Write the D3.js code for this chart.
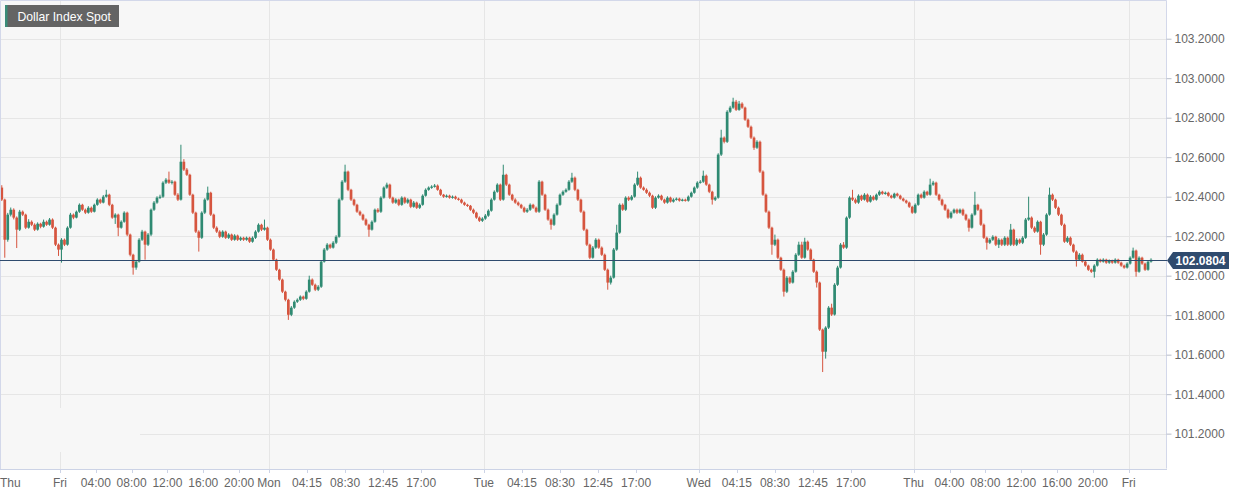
<!DOCTYPE html>
<html>
<head>
<meta charset="utf-8">
<script src="https://cdnjs.cloudflare.com/ajax/libs/d3/7.8.5/d3.min.js"></script>
<style>
html,body{margin:0;padding:0;background:#fff;}
svg{display:block;font-family:"Liberation Sans",Arial,Helvetica,sans-serif;}
</style>
</head>
<body>
<svg id="chart" width="1244" height="495"></svg>
<script>
// ---------------- DATA (20-minute candles, open = previous close) ----------------
const title = "Dollar Index Spot";
const open0 = 102.446;
const close = [
102.385,102.182,102.309,102.334,102.294,102.233,102.324,102.309,102.243,102.273,
102.258,102.233,102.263,102.248,102.273,102.258,102.284,102.243,102.157,102.132,
102.182,102.157,102.243,102.309,102.294,102.324,102.359,102.334,102.319,102.344,
102.324,102.359,102.385,102.370,102.400,102.410,102.359,102.294,102.309,102.243,
102.273,102.319,102.208,102.106,102.041,102.071,102.182,102.223,102.157,102.208,
102.334,102.370,102.395,102.400,102.471,102.486,102.471,102.476,102.410,102.385,
102.577,102.537,102.511,102.410,102.319,102.223,102.192,102.319,102.385,102.420,
102.309,102.243,102.223,102.197,102.223,102.192,102.208,102.182,102.203,102.182,
102.192,102.182,102.192,102.172,102.192,102.223,102.258,102.233,102.243,102.182,
102.132,102.081,102.030,101.980,101.919,101.878,101.802,101.838,101.868,101.878,
101.894,101.883,101.919,101.980,101.954,101.929,101.944,102.071,102.132,102.157,
102.142,102.167,102.197,102.385,102.476,102.527,102.435,102.385,102.359,102.324,
102.309,102.284,102.258,102.233,102.273,102.334,102.324,102.395,102.446,102.461,
102.395,102.370,102.385,102.359,102.395,102.370,102.385,102.349,102.370,102.344,
102.359,102.405,102.435,102.446,102.451,102.456,102.435,102.410,102.400,102.405,
102.395,102.400,102.390,102.385,102.370,102.359,102.354,102.334,102.319,102.294,
102.278,102.289,102.304,102.329,102.385,102.425,102.461,102.385,102.511,102.461,
102.410,102.385,102.370,102.359,102.344,102.324,102.334,102.359,102.344,102.324,
102.476,102.410,102.334,102.284,102.258,102.309,102.359,102.410,102.425,102.435,
102.476,102.496,102.435,102.385,102.324,102.233,102.157,102.091,102.142,102.182,
102.142,102.106,102.030,101.965,101.990,102.132,102.218,102.359,102.334,102.395,
102.385,102.400,102.461,102.496,102.446,102.435,102.420,102.405,102.344,102.395,
102.405,102.385,102.370,102.395,102.375,102.385,102.390,102.380,102.385,102.380,
102.400,102.420,102.446,102.471,102.476,102.506,102.461,102.425,102.385,102.395,
102.613,102.699,102.678,102.830,102.851,102.881,102.840,102.871,102.851,102.790,
102.754,102.699,102.648,102.678,102.527,102.410,102.324,102.243,102.157,102.182,
102.091,102.030,101.919,101.990,101.965,102.020,102.106,102.157,102.091,102.172,
102.132,102.081,102.020,101.965,101.727,101.615,101.737,101.838,101.803,101.954,
102.041,102.157,102.142,102.294,102.395,102.385,102.370,102.405,102.385,102.410,
102.375,102.400,102.385,102.410,102.425,102.415,102.420,102.405,102.395,102.415,
102.405,102.390,102.380,102.370,102.349,102.319,102.359,102.410,102.395,102.425,
102.410,102.461,102.471,102.410,102.385,102.359,102.334,102.294,102.319,102.334,
102.319,102.334,102.309,102.284,102.243,102.309,102.359,102.334,102.258,102.192,
102.167,102.182,102.197,102.157,102.182,102.157,102.192,102.157,102.233,102.157,
102.182,102.167,102.192,102.284,102.294,102.243,102.223,102.273,102.157,102.208,
102.309,102.410,102.385,102.344,102.309,102.258,102.172,102.192,102.157,102.122,
102.081,102.106,102.071,102.051,102.030,102.020,102.051,102.081,102.071,102.081,
102.066,102.076,102.066,102.081,102.066,102.051,102.041,102.061,102.091,102.127,
102.020,102.091,102.061,102.030,102.071,102.0804
];
const high = [
102.458,102.390,102.318,102.345,102.341,102.300,102.333,102.330,102.314,102.286,
102.280,102.265,102.270,102.268,102.284,102.279,102.292,102.290,102.248,102.163,
102.190,102.188,102.250,102.318,102.315,102.330,102.366,102.364,102.340,102.352,
102.350,102.365,102.392,102.390,102.408,102.435,102.415,102.364,102.316,102.314,
102.280,102.326,102.324,102.213,102.111,102.080,102.190,102.232,102.228,102.216,
102.340,102.378,102.402,102.410,102.478,102.494,102.527,102.484,102.481,102.418,
102.663,102.590,102.545,102.516,102.415,102.324,102.230,102.326,102.392,102.451,
102.425,102.314,102.250,102.230,102.230,102.228,102.215,102.213,102.210,102.208,
102.198,102.197,102.198,102.197,102.199,102.230,102.265,102.263,102.284,102.248,
102.188,102.137,102.086,102.035,101.985,101.924,101.883,101.846,101.875,101.885,
101.900,101.899,101.926,102.000,101.986,101.960,101.952,102.078,102.140,102.165,
102.162,102.175,102.205,102.392,102.484,102.562,102.532,102.440,102.390,102.364,
102.330,102.314,102.290,102.263,102.280,102.340,102.342,102.402,102.452,102.471,
102.466,102.400,102.392,102.390,102.402,102.400,102.392,102.390,102.378,102.375,
102.366,102.412,102.442,102.452,102.458,102.464,102.462,102.440,102.414,102.411,
102.410,102.406,102.405,102.395,102.390,102.375,102.364,102.358,102.340,102.324,
102.300,102.296,102.312,102.336,102.392,102.432,102.468,102.466,102.562,102.516,
102.466,102.415,102.392,102.376,102.364,102.350,102.342,102.366,102.364,102.350,
102.484,102.481,102.415,102.340,102.290,102.316,102.366,102.416,102.432,102.442,
102.484,102.521,102.502,102.440,102.390,102.330,102.238,102.162,102.150,102.190,
102.188,102.148,102.112,102.036,102.000,102.140,102.258,102.366,102.366,102.402,
102.402,102.408,102.468,102.527,102.502,102.452,102.442,102.426,102.410,102.402,
102.412,102.410,102.390,102.402,102.400,102.392,102.396,102.395,102.390,102.390,
102.406,102.426,102.452,102.478,102.484,102.532,102.512,102.466,102.430,102.402,
102.620,102.739,102.705,102.838,102.860,102.901,102.890,102.885,102.878,102.856,
102.796,102.760,102.705,102.686,102.684,102.533,102.416,102.330,102.248,102.208,
102.188,102.096,102.036,101.998,101.996,102.028,102.114,102.172,102.172,102.192,
102.178,102.138,102.086,102.026,101.970,101.732,101.744,101.846,101.858,101.962,
102.050,102.165,102.170,102.300,102.402,102.435,102.392,102.412,102.410,102.418,
102.416,102.408,102.406,102.416,102.432,102.430,102.426,102.425,102.410,102.420,
102.420,102.410,102.395,102.385,102.375,102.354,102.366,102.416,102.416,102.432,
102.430,102.491,102.480,102.476,102.415,102.390,102.364,102.340,102.326,102.340,
102.340,102.340,102.340,102.314,102.290,102.316,102.425,102.364,102.340,102.264,
102.198,102.190,102.205,102.202,102.190,102.188,102.200,102.198,102.262,102.238,
102.190,102.188,102.200,102.292,102.400,102.300,102.250,102.280,102.278,102.216,
102.316,102.446,102.416,102.390,102.350,102.314,102.264,102.200,102.198,102.162,
102.128,102.114,102.112,102.076,102.056,102.036,102.058,102.088,102.086,102.088,
102.086,102.082,102.081,102.088,102.086,102.071,102.056,102.068,102.098,102.142,
102.132,102.098,102.096,102.066,102.078,102.088
];
const low = [
102.378,102.091,102.172,102.300,102.285,102.140,102.226,102.302,102.236,102.238,
102.251,102.226,102.228,102.240,102.243,102.252,102.253,102.236,102.150,102.100,
102.066,102.150,102.152,102.238,102.286,102.290,102.318,102.328,102.312,102.314,
102.318,102.320,102.354,102.364,102.366,102.395,102.352,102.288,102.262,102.200,
102.238,102.268,102.200,102.098,102.005,102.030,102.066,102.176,102.081,102.150,
102.200,102.328,102.364,102.388,102.394,102.464,102.465,102.462,102.404,102.378,
102.380,102.530,102.505,102.404,102.312,102.216,102.122,102.186,102.312,102.380,
102.302,102.236,102.216,102.190,102.192,102.186,102.186,102.176,102.177,102.176,
102.176,102.176,102.177,102.166,102.167,102.186,102.218,102.226,102.228,102.176,
102.126,102.075,102.024,101.974,101.912,101.870,101.776,101.795,101.832,101.862,
101.872,101.876,101.878,101.914,101.948,101.922,101.922,101.938,102.066,102.126,
102.136,102.137,102.160,102.192,102.380,102.470,102.428,102.378,102.352,102.318,
102.302,102.278,102.252,102.197,102.228,102.268,102.318,102.318,102.390,102.440,
102.388,102.364,102.364,102.352,102.354,102.364,102.364,102.342,102.344,102.338,
102.338,102.354,102.400,102.430,102.440,102.446,102.430,102.404,102.394,102.395,
102.390,102.390,102.385,102.380,102.365,102.354,102.348,102.328,102.312,102.288,
102.272,102.272,102.283,102.298,102.324,102.380,102.420,102.378,102.380,102.454,
102.404,102.378,102.364,102.352,102.338,102.318,102.318,102.328,102.338,102.318,
102.318,102.404,102.328,102.278,102.233,102.252,102.304,102.354,102.404,102.420,
102.430,102.470,102.428,102.378,102.318,102.226,102.150,102.084,102.086,102.136,
102.136,102.100,102.024,101.929,101.955,101.985,102.126,102.212,102.328,102.328,
102.378,102.380,102.395,102.455,102.440,102.430,102.414,102.398,102.338,102.338,
102.390,102.380,102.364,102.365,102.370,102.370,102.380,102.375,102.376,102.375,
102.375,102.395,102.415,102.440,102.466,102.470,102.455,102.418,102.360,102.378,
102.390,102.606,102.670,102.672,102.824,102.845,102.834,102.835,102.845,102.784,
102.748,102.692,102.637,102.642,102.520,102.404,102.318,102.236,102.106,102.150,
102.084,102.024,101.894,101.912,101.958,101.960,102.015,102.100,102.085,102.086,
102.126,102.075,102.014,101.940,101.720,101.512,101.580,101.730,101.796,101.798,
101.948,102.036,102.136,102.136,102.288,102.378,102.364,102.364,102.378,102.380,
102.370,102.370,102.380,102.380,102.404,102.410,102.410,102.400,102.390,102.390,
102.400,102.385,102.375,102.364,102.343,102.313,102.314,102.354,102.390,102.390,
102.404,102.405,102.455,102.404,102.378,102.352,102.328,102.288,102.288,102.314,
102.312,102.314,102.302,102.278,102.223,102.238,102.304,102.328,102.252,102.186,
102.132,102.160,102.176,102.150,102.140,102.150,102.150,102.150,102.150,102.150,
102.150,102.160,102.160,102.186,102.278,102.236,102.216,102.218,102.106,102.150,
102.202,102.304,102.378,102.338,102.302,102.252,102.166,102.166,102.150,102.116,
102.046,102.076,102.066,102.045,102.024,102.014,101.990,102.046,102.066,102.066,
102.060,102.060,102.060,102.061,102.060,102.045,102.035,102.036,102.056,102.086,
101.995,102.015,102.055,102.024,102.025,102.066
];
const lastPrice = 102.0804;

// sessions: candle index where each day starts, and its label
const dayStart = [0, 20, 90, 162, 234, 306, 378];
const dayName  = ["Thu", "Fri", "Mon", "Tue", "Wed", "Thu", "Fri"];
// intraday tick labels per day (hours after day start)
const intradayLabels = [
  [],
  ["04:00","08:00","12:00","16:00","20:00"],
  ["04:15","08:30","12:45","17:00"],
  ["04:15","08:30","12:45","17:00"],
  ["04:15","08:30","12:45","17:00"],
  ["04:00","08:00","12:00","16:00","20:00"],
  []
];
const candlesPerHour = 3;
const yTicks = [101.2, 101.4, 101.6, 101.8, 102.0, 102.2, 102.4, 102.6, 102.8, 103.0, 103.2];

// ---------------- LAYOUT ----------------
const W = 1244, H = 495;
const plot = {left: 0, top: 0, right: 1167, bottom: 469};
const step = 2.985;
const UP = "#2f8a72", DOWN = "#d6553f";

const svg = d3.select("#chart");
const N = close.length;
const opens = close.map((c, i) => i === 0 ? open0 : close[i - 1]);

const x = d3.scaleLinear().domain([0, N]).range([0.3, 0.3 + N * step]);
const y = d3.scaleLinear().domain([101.021, 103.396]).range([plot.bottom, plot.top]);

// plot background
svg.append("rect")
  .attr("x", plot.left).attr("y", plot.top)
  .attr("width", plot.right - plot.left).attr("height", plot.bottom - plot.top)
  .attr("fill", "#f7f7f7");

// horizontal grid
svg.append("g").selectAll("line").data(yTicks).join("line")
  .attr("x1", plot.left).attr("x2", plot.right)
  .attr("y1", d => Math.round(y(d)) + 0.5).attr("y2", d => Math.round(y(d)) + 0.5)
  .attr("stroke", "#e6e6e6").attr("stroke-width", 1);

// vertical grid at day boundaries
svg.append("g").selectAll("line").data(dayStart.slice(1)).join("line")
  .attr("x1", d => Math.round(x(d)) + 0.5).attr("x2", d => Math.round(x(d)) + 0.5)
  .attr("y1", plot.top).attr("y2", plot.bottom)
  .attr("stroke", "#e6e6e6").attr("stroke-width", 1);

// faint overlay box bottom-left
svg.append("rect").attr("x", 1).attr("y", 408).attr("width", 139).attr("height", 44)
  .attr("fill", "#f7f7f7");

// candles
const cg = svg.append("g");
const idx = d3.range(N);
cg.selectAll("line.wick").data(idx).join("line")
  .attr("class", "wick")
  .attr("x1", i => x(i + 0.5)).attr("x2", i => x(i + 0.5))
  .attr("y1", i => y(high[i])).attr("y2", i => y(low[i]))
  .attr("stroke", i => close[i] >= opens[i] ? UP : DOWN)
  .attr("stroke-width", 1);
cg.selectAll("rect.body").data(idx).join("rect")
  .attr("class", "body")
  .attr("x", i => x(i + 0.5) - 1.35)
  .attr("width", 2.7)
  .attr("y", i => y(Math.max(opens[i], close[i])))
  .attr("height", i => Math.max(1.2, Math.abs(y(opens[i]) - y(close[i]))))
  .attr("fill", i => close[i] >= opens[i] ? UP : DOWN);

// frame
svg.append("path")
  .attr("d", `M${plot.left + 0.5},${plot.bottom}V${plot.top + 0.5}H${plot.right - 0.5}V${plot.bottom - 0.5}`)
  .attr("fill", "none").attr("stroke", "#d3d8ea").attr("stroke-width", 1);
svg.append("line")
  .attr("x1", plot.left).attr("x2", plot.right)
  .attr("y1", plot.bottom + 0.5).attr("y2", plot.bottom + 0.5)
  .attr("stroke", "#ccd3e6").attr("stroke-width", 1);

// y axis (right)
const yAxis = d3.axisRight(y).tickValues(yTicks).tickFormat(d3.format(".4f"))
  .tickSize(5).tickPadding(3);
const ya = svg.append("g").attr("transform", `translate(${plot.right - 0.5},0)`).call(yAxis);
ya.select(".domain").remove();
ya.selectAll(".tick line").attr("stroke", "#b8bdc9");
ya.selectAll(".tick text").attr("fill", "#666").style("font-size", "12px")
  .style("font-family", "'Liberation Sans',Arial,sans-serif");

// x axis ticks and labels
const xTicks = [];
dayStart.forEach((s, k) => {
  xTicks.push({pos: s, label: dayName[k], day: true});
  intradayLabels[k].forEach(lbl => {
    const [hh, mm] = lbl.split(":").map(Number);
    xTicks.push({pos: s + (hh + mm / 60) * candlesPerHour, label: lbl, day: false});
  });
});
const xa = svg.append("g");
xa.selectAll("line").data(xTicks.filter(t => t.pos > 0)).join("line")
  .attr("x1", t => Math.round(x(t.pos)) + 0.5).attr("x2", t => Math.round(x(t.pos)) + 0.5)
  .attr("y1", plot.bottom + 1).attr("y2", plot.bottom + 4)
  .attr("stroke", "#ccd3e6");
xa.selectAll("text").data(xTicks).join("text")
  .attr("x", t => t.pos === 0 ? 0 : x(t.pos))
  .attr("y", 487)
  .attr("text-anchor", t => t.pos === 0 ? "start" : "middle")
  .attr("fill", "#666").style("font-size", "12px")
  .text(t => t.label);

// last price line + label
const yl = Math.round(y(lastPrice)) + 0.5;
svg.append("line").attr("x1", plot.left).attr("x2", plot.right)
  .attr("y1", yl).attr("y2", yl)
  .attr("stroke", "#2f4b6e").attr("stroke-width", 1.2);
svg.append("path")
  .attr("d", `M${plot.right},${yl} L${plot.right + 6},${yl - 8.5} H1229 V${yl + 8.5} H${plot.right + 6} Z`)
  .attr("fill", "#2f4b6e");
svg.append("text").attr("x", 1200.5).attr("y", yl + 4.3)
  .attr("text-anchor", "middle").attr("fill", "#fff")
  .style("font-size", "12px").style("font-weight", "bold")
  .text(d3.format(".4f")(lastPrice));

// title badge
const tg = svg.append("g");
tg.append("rect").attr("x", 5).attr("y", 5).attr("width", 114).attr("height", 22).attr("fill", "#646464");
tg.append("rect").attr("x", 5).attr("y", 5).attr("width", 2.5).attr("height", 22).attr("fill", "#3a8c78");
tg.append("text").attr("x", 17.5).attr("y", 20.5).attr("fill", "#fff")
  .style("font-size", "12.2px").text(title);
</script>
</body>
</html>
